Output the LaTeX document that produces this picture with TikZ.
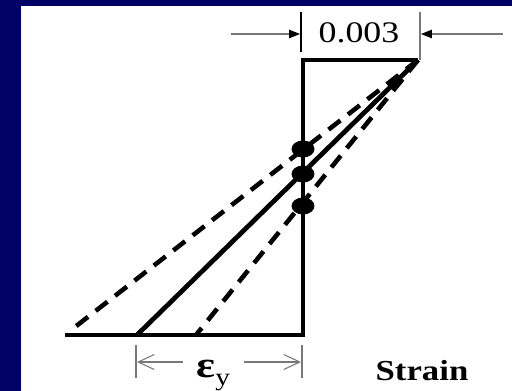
\documentclass[tikz,border=0pt]{standalone}
\usepackage{fontspec}
\setmainfont{Liberation Serif}
\usetikzlibrary{arrows.meta,shapes.geometric}
\definecolor{navybg}{RGB}{0,0,102}
\definecolor{dimgray}{RGB}{120,120,120}
\tikzset{
  thickline/.style={line width=2.7pt,black},
  dashline/.style={line width=2.6pt,black,dash pattern=on 8.5pt off 5.5pt},
  dimline/.style={line width=0.6pt,dimgray},
  tickline/.style={line width=0.7pt,dimgray},
  fillarrow/.style={dimline,-{Triangle[length=0.22cm,width=0.17cm,color=black]}},
  openarrow/.style={dimline,-{Straight Barb[length=0.32cm,width=0.3cm]}},
  dot/.style={ellipse,fill=black,minimum width=0.46cm,minimum height=0.34cm,inner sep=0pt},
  lbl/.style={inner sep=0pt,xscale=1.2,font=\fontsize{17}{20}\selectfont}
}
\begin{document}
\begin{tikzpicture}[x=0.02cm,y=-0.02cm]
\fill[navybg] (0,0) rectangle (512,391);
\useasboundingbox (0,0) rectangle (512,391);
\fill[white] (21,6) rectangle (512,391);
% key points
\coordinate (TR) at (418,60);
\coordinate (TL) at (303,60);
\coordinate (BR) at (303,335);
\coordinate (BL) at (65,335);
\coordinate (S) at (137,335);
\coordinate (D1) at (75,327);
\coordinate (D2) at (196,335);
% dashed lines
\draw[dashline] (TR) -- (D1);
\draw[dashline] (TR) -- (D2);
% outline and solid line
\draw[thickline,line join=miter] (TR) -- (TL) -- (BR) -- (BL);
\draw[thickline] (S) -- (TR);
% dots
\node[dot] (p1) at (303,149) {};
\node[dot] (p2) at (303,174) {};
\node[dot] (p3) at (303,206) {};
% top dimension
\coordinate (t1a) at (301,12); \coordinate (t1b) at (301,52);
\coordinate (t2a) at (420,12); \coordinate (t2b) at (420,60);
\draw[line width=0.7pt,black] (t1a) -- (t1b);
\draw[tickline] (t2a) -- (t2b);
\coordinate (la) at (231,34); \coordinate (lb) at (300,34);
\coordinate (ra) at (503,34); \coordinate (rb) at (421,34);
\draw[fillarrow] (la) -- (lb);
\draw[fillarrow] (ra) -- (rb);
\node[lbl] (val) at (359,33) {0.003};
% bottom dimension
\coordinate (b1a) at (136,345); \coordinate (b1b) at (136,378);
\coordinate (b2a) at (302,345); \coordinate (b2b) at (302,378);
\draw[tickline] (b1a) -- (b1b);
\draw[tickline] (b2a) -- (b2b);
\coordinate (bla) at (183,362); \coordinate (blb) at (137,362);
\coordinate (bra) at (244,362); \coordinate (brb) at (301,362);
\draw[openarrow] (bla) -- (blb);
\draw[openarrow] (bra) -- (brb);
\node[lbl,anchor=base west,font=\fontsize{21}{24}\selectfont\bfseries] (eps) at (196,378) {ε\raisebox{-0.2em}{\fontsize{14}{16}\selectfont\mdseries y}};
\node[lbl,font=\fontsize{16.5}{20}\selectfont\bfseries] (strain) at (422,371) {Strain};
\end{tikzpicture}
\end{document}
